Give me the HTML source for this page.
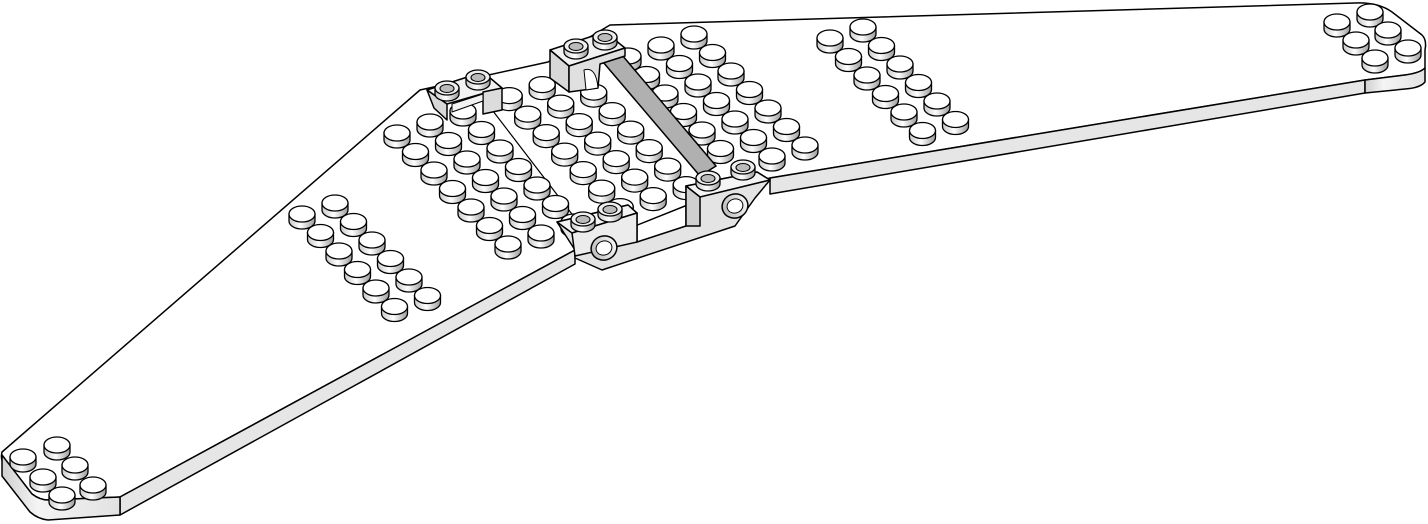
<!DOCTYPE html>
<html><head><meta charset="utf-8"><style>html,body{margin:0;padding:0;background:#fff;}svg{display:block}</style></head>
<body>
<svg id="s" width="1428" height="524" viewBox="0 0 1428 524" xmlns="http://www.w3.org/2000/svg">
<defs>
<linearGradient id="cyl" x1="0" x2="1" y1="0" y2="0">
<stop offset="0" stop-color="#c8c8c8"/><stop offset="0.45" stop-color="#ffffff"/><stop offset="1" stop-color="#9a9a9a"/>
</linearGradient>
<linearGradient id="hole" x1="0" x2="1" y1="0" y2="0">
<stop offset="0" stop-color="#bdbdbd"/><stop offset="0.5" stop-color="#d8d8d8"/><stop offset="1" stop-color="#f5f5f5"/>
</linearGradient>
<linearGradient id="side" x1="0" x2="1" y1="0" y2="0">
<stop offset="0" stop-color="#cfcfcf"/><stop offset="0.3" stop-color="#f4f4f4"/><stop offset="1" stop-color="#e2e2e2"/>
</linearGradient>
<symbol id="stud" overflow="visible">
<path d="M-13,0 v7 a13,8 0 0 0 26,0 v-7 z" fill="url(#cyl)" stroke="#000" stroke-width="1.3"/>
<ellipse cx="0" cy="0" rx="13" ry="8" fill="#fff" stroke="#000" stroke-width="1.3"/>
</symbol>
<symbol id="hstud" overflow="visible">
<path d="M-12,0 v6 a12,7 0 0 0 24,0 v-6 z" fill="url(#cyl)" stroke="#000" stroke-width="1.3"/>
<ellipse cx="0" cy="0" rx="12" ry="7" fill="#eee" stroke="#000" stroke-width="1.3"/>
<ellipse cx="0" cy="0.5" rx="7" ry="4" fill="#bbb" stroke="#000" stroke-width="1.1"/>
</symbol>
<symbol id="hole" overflow="visible">
<ellipse cx="0" cy="0" rx="13" ry="8" fill="url(#hole)" stroke="#000" stroke-width="1.2"/>
</symbol>
</defs>
<g stroke="#000" stroke-width="1.5" stroke-linejoin="round">
<path d="M2,452 L420,90 L548,62 L610,25 L1355,3 Q1378,2 1392,12 L1422,35 Q1427,40 1425,50 L1425,68 Q1420,73 1405,75 L1365,80 L770,178 L700,200 L575,250 L120,497 L48,500 Q40,500 32,494 L5,466 Q0,460 2,452 Z" fill="#fff"/>
<path d="M120,497 L575,250 L575,264 L120,515 Z" fill="#e6e6e6"/>
<path d="M2,455 L32,494 Q40,500 48,500 L120,497 L120,515 L48,520 Q38,519 30,512 L2,476 Z" fill="url(#side)"/>
<path d="M770,178 L1365,80 L1365,93 L770,194 Z" fill="#e6e6e6"/>
<path d="M1365,80 L1405,75 Q1420,73 1425,68 L1425,82 Q1420,88 1405,89 L1365,93 Z" fill="url(#side)"/>
<path d="M483,98 L578,222" fill="none" stroke-width="1.2"/>
</g>
<g id="studs"></g>
<g stroke="#000" stroke-width="1.5" stroke-linejoin="round">
<path d="M603,62 L622,55 L716,166 L700,176 Z" fill="#b0b0b0"/>
<path d="M427,90 L483,72 L502,88 L447,104 Z" fill="#f2f2f2"/>
<path d="M427,90 L447,104 L447,120 L434,108 Z" fill="#d8d8d8"/>
<path d="M483,92 L502,88 L502,110 L483,114 Z" fill="#dcdcdc"/>
<path d="M452,112 L483,101 L483,94 L452,104 Z" fill="#f2f2f2" stroke-width="1"/>
<path d="M550,50 L605,32 L625,48 L569,66 Z" fill="#f2f2f2"/>
<path d="M550,50 L569,66 L569,92 L550,78 Z" fill="#d8d8d8"/>
<path d="M569,66 L625,48 L625,56 L600,64 L598,88 L569,92 Z" fill="#e0e0e0"/>
<path d="M584,70 Q596,66 598,88 L586,90 Z" fill="#fff" stroke-width="1"/>
<path d="M557,222 L628,205 L637,213 L637,242 L686,226 L686,186 L757,172 L770,180 L755,198 L735,226 L602,270 L575,258 L575,250 Z" fill="#e4e4e4"/>
<path d="M557,222 L628,205 L637,213 L572,233 Z" fill="#f4f4f4"/>
<path d="M686,186 L757,172 L770,180 L700,197 Z" fill="#f4f4f4"/>
<path d="M686,186 L700,197 L700,226 L686,226 Z" fill="#cfcfcf"/>
<path d="M572,233 L637,213 L637,242 L575,256 Z" fill="#ececec"/>
<ellipse cx="604" cy="248" rx="13" ry="12" fill="url(#hole)" transform="rotate(-20 604 248)"/>
<ellipse cx="604" cy="248" rx="8" ry="7" fill="#fff" stroke-width="1" transform="rotate(-20 604 248)"/>
<ellipse cx="735" cy="206" rx="13" ry="12" fill="url(#hole)" transform="rotate(-20 735 206)"/>
<ellipse cx="735" cy="206" rx="8" ry="7" fill="#fff" stroke-width="1" transform="rotate(-20 735 206)"/>
</g>
<g>
<use href="#hstud" x="447" y="88"/><use href="#hstud" x="478" y="77"/>
<use href="#hstud" x="576" y="46"/><use href="#hstud" x="605" y="37"/>
<use href="#hstud" x="583" y="219"/><use href="#hstud" x="610" y="209"/>
<use href="#hstud" x="708" y="178"/><use href="#hstud" x="743" y="167"/>
</g>
</svg>
<script>
(function(){
var items=[];
function L(a,b){return [430+33*a+18.5*b,122-11*a+18.5*b];}
function S(p){items.push({t:'stud',x:p[0],y:p[1],o:p[1]});}
function H(p){items.push({t:'hole',x:p[0],y:p[1],o:p[1]-6});}
var k;
for(k=0;k<6;k++){S(L(-5,2+k));S(L(-4,2+k));}
for(k=0;k<5;k++)H(L(-4.55,2.7+k));
for(k=0;k<6;k++){S(L(11,2+k));S(L(12,2+k));}
for(k=0;k<5;k++)H(L(11.45,2.7+k));
for(k=0;k<7;k++){S(L(-1,k));S(L(0,k));}
for(k=0;k<6;k++)H(L(-0.55,0.7+k));
for(k=0;k<7;k++)S(L(1,k));
for(k=0;k<7;k++)S(L(2.4,k));
for(k=0;k<7;k++)S(L(3.4,k));
for(k=1;k<7;k++)S(L(4.4,k));
for(k=0;k<6;k++)S(L(6,k));
for(k=0;k<7;k++){S(L(7,k));S(L(8,k));}
for(k=0;k<6;k++)H(L(7.45,0.7+k));
[[23,457],[57,445],[43,477],[75,465],[62,495],[93,485]].forEach(function(p){S(p);});
[[1337,22],[1370,12],[1356,40],[1388,30],[1375,58],[1408,48]].forEach(function(p){S(p);});
items.sort(function(a,b){return a.o-b.o;});
var g=document.getElementById('studs'),ns='http://www.w3.org/2000/svg';
items.forEach(function(it){var u=document.createElementNS(ns,'use');u.setAttribute('href','#'+it.t);u.setAttribute('x',it.x.toFixed(1));u.setAttribute('y',it.y.toFixed(1));g.appendChild(u);});
})();
</script>
</body></html>
